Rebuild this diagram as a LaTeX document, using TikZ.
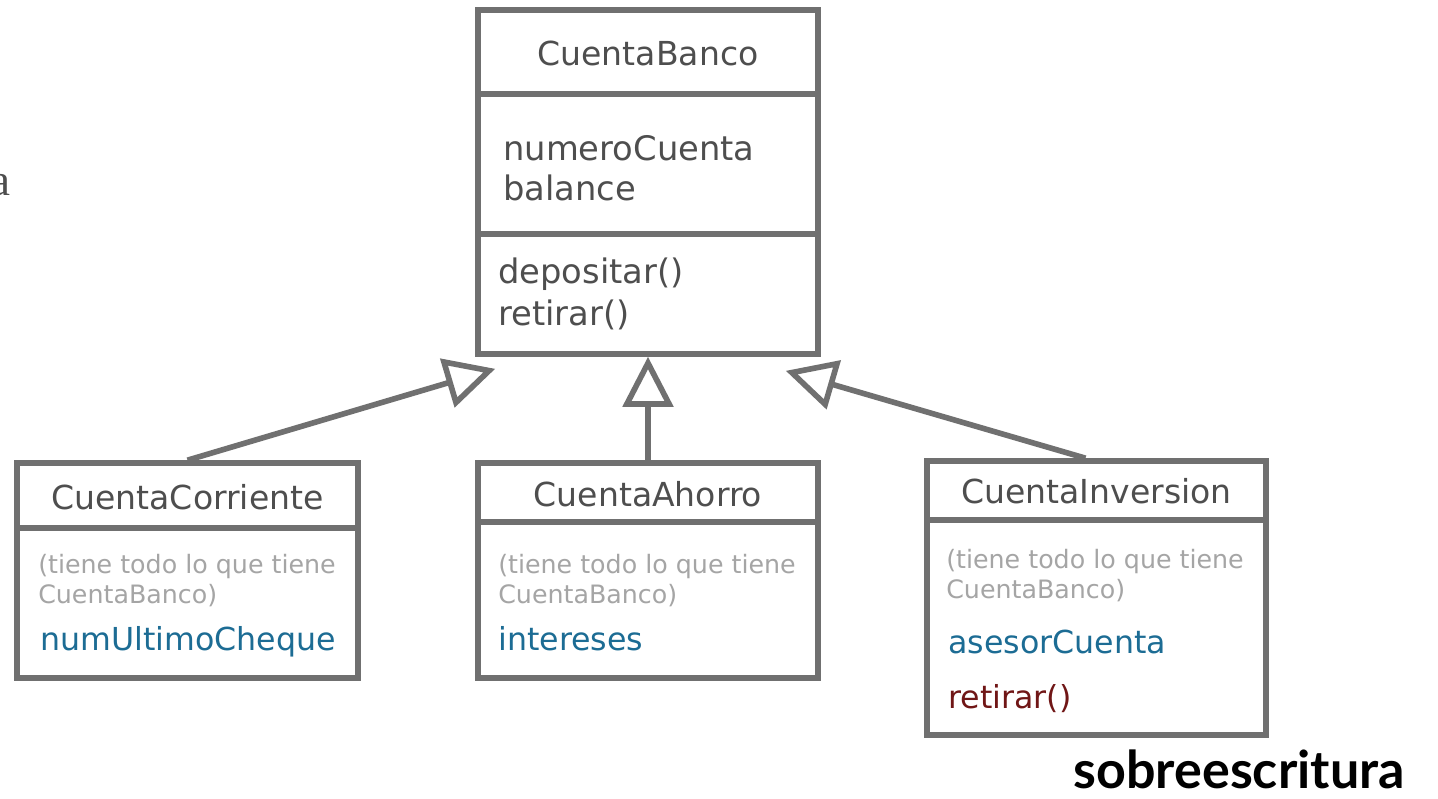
\documentclass[tikz,border=0pt]{standalone}
\usepackage{fontspec}
\setmainfont{DejaVu Sans}
\newfontfamily\labelfont{Lato}
\newfontfamily\cutfont{Liberation Serif}
\usetikzlibrary{arrows.meta,calc}

\newcommand\px{0.025cm}
\definecolor{umlgray}{RGB}{112,112,112}
\definecolor{titlegray}{RGB}{78,78,78}
\definecolor{notegray}{RGB}{165,165,165}
\definecolor{attrblue}{RGB}{28,108,148}
\definecolor{methred}{RGB}{112,22,22}

\tikzset{
  umlbox/.style={draw=umlgray, line width=4pt, fill=white, inner sep=0pt},
  divline/.style={draw=umlgray, line width=4pt},
  title/.style={text=titlegray, inner sep=0pt, anchor=base, font=\fontsize{23.5}{27}\selectfont},
  member/.style={text=titlegray, inner sep=0pt, anchor=base west, font=\fontsize{24}{28}\selectfont},
  note/.style={text=notegray, inner sep=0pt, anchor=base west, font=\fontsize{18}{21}\selectfont},
  newattr/.style={text=attrblue, inner sep=0pt, anchor=base west, font=\fontsize{22.5}{26}\selectfont},
  newmeth/.style={text=methred, inner sep=0pt, anchor=base west, font=\fontsize{22.5}{26}\selectfont},
  inherit/.style={draw=umlgray, line width=4pt,
    -{Triangle[open, length=50*\px, width=50*\px]}},
}

\begin{document}
\begin{tikzpicture}[x=0.025cm, y=-0.025cm]
  \useasboundingbox[fill=white] (0,0) rectangle (1438,798);

  % cut-off letter at the left edge
  \node[anchor=base east, inner sep=0pt, text=titlegray,
        font=\cutfont\fontsize{32}{36}\selectfont] (cutA) at (11,195) {a};

  % superclass
  \node[umlbox, minimum width=340*\px, minimum height=344*\px] (banco) at (648,182) {};
  \draw[divline] (478,94) -- (818,94);
  \draw[divline] (478,234) -- (818,234);
  \node[title] (bancoT) at (648,65) {CuentaBanco};
  \node[member] (bancoA1) at (503,160) {numeroCuenta};
  \node[member] (bancoA2) at (503,200) {balance};
  \node[member] (bancoM1) at (498,283) {depositar()};
  \node[member] (bancoM2) at (498,325) {retirar()};

  % subclasses
  \node[umlbox, minimum width=341*\px, minimum height=215*\px] (corriente) at (187.5,570.5) {};
  \draw[divline] (17,528) -- (358,528);
  \node[title] (corrienteT) at (187.5,509) {CuentaCorriente};
  \node[note] (corrienteN1) at (38,573) {(tiene todo lo que tiene};
  \node[note] (corrienteN2) at (38,603) {CuentaBanco)};
  \node[newattr] (corrienteA) at (40,650) {numUltimoCheque};

  \node[umlbox, minimum width=340*\px, minimum height=215*\px] (ahorro) at (648,570.5) {};
  \draw[divline] (478,522) -- (818,522);
  \node[title] (ahorroT) at (648,506) {CuentaAhorro};
  \node[note] (ahorroN1) at (498,573) {(tiene todo lo que tiene};
  \node[note] (ahorroN2) at (498,603) {CuentaBanco)};
  \node[newattr] (ahorroA) at (498,650) {intereses};

  \node[umlbox, minimum width=339*\px, minimum height=274*\px] (inversion) at (1096.5,598) {};
  \draw[divline] (927,520) -- (1266,520);
  \node[title] (inversionT) at (1096.5,503) {CuentaInversion};
  \node[note] (inversionN1) at (946,568) {(tiene todo lo que tiene};
  \node[note] (inversionN2) at (946,598) {CuentaBanco)};
  \node[newattr] (inversionA) at (948,653) {asesorCuenta};
  \node[newmeth] (inversionM) at (948,708) {retirar()};

  % generalisation arrows
  \coordinate (tipL) at ($(banco.south west)+(20,12)$);
  \coordinate (tipR) at ($(banco.south east)+(-35,14)$);
  \draw[inherit] (corriente.north) -- (tipL);
  \draw[inherit] (ahorro.north) -- (banco.south);
  \draw[inherit] ([xshift=-11*\px]inversion.north) -- (tipR);

  \node[anchor=base east, inner sep=0pt,
        font=\labelfont\bfseries\fontsize{37}{41}\selectfont] (sobre) at (1405,788) {sobreescritura};
\end{tikzpicture}
\end{document}
